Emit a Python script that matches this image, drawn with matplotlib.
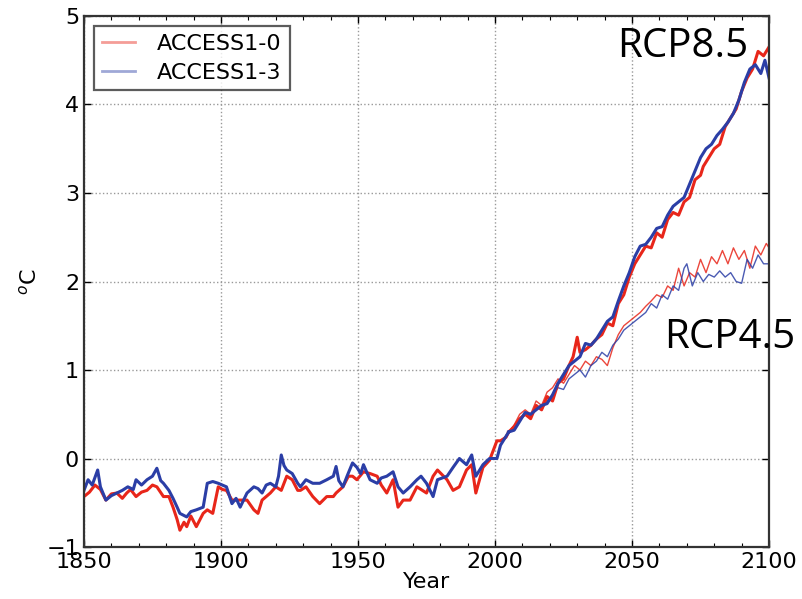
import numpy as np
import matplotlib
matplotlib.use('Agg')
import matplotlib.pyplot as plt
from matplotlib.lines import Line2D
from matplotlib.ticker import MultipleLocator

# historical runs (both models share 1850-2005)
hist_years_13 = [1850, 1851.5, 1853, 1855, 1856, 1858, 1860, 1862, 1864, 1866, 1868, 1869,
                 1871, 1873, 1875, 1876.6, 1878, 1879, 1881, 1882.5, 1884, 1885, 1887.5, 1889,
                 1891, 1893.5, 1895, 1897, 1899, 1900.5, 1902, 1904, 1905.5, 1907, 1909.5, 1912,
                 1913.5, 1915, 1916.5, 1918, 1920, 1921, 1922, 1923, 1924, 1926, 1928, 1929,
                 1931, 1933.5, 1936, 1938.6, 1941, 1942, 1943, 1944.5, 1946, 1948, 1949.6, 1951,
                 1952, 1954.4, 1957, 1958.5, 1960.5, 1962.8, 1964.6, 1966.5, 1969, 1971.5, 1973,
                 1975, 1977.4, 1979, 1982.5, 1984.7, 1987, 1989.6, 1991.5, 1993, 1995.6, 1998,
                 2000.7, 2002, 2004, 2005]
hist_access13 = [-0.36, -0.24, -0.30, -0.13, -0.32, -0.47, -0.42, -0.39, -0.36, -0.32, -0.35, -0.24,
                 -0.30, -0.24, -0.20, -0.11, -0.25, -0.28, -0.36, -0.45, -0.55, -0.62, -0.66, -0.60,
                 -0.58, -0.55, -0.28, -0.26, -0.28, -0.30, -0.32, -0.51, -0.45, -0.55, -0.39, -0.32,
                 -0.34, -0.39, -0.30, -0.28, -0.32, -0.20, 0.04, -0.08, -0.13, -0.17, -0.28, -0.32,
                 -0.24, -0.28, -0.28, -0.24, -0.20, -0.09, -0.25, -0.32, -0.20, -0.05, -0.10, -0.17,
                 -0.07, -0.24, -0.28, -0.22, -0.20, -0.15, -0.32, -0.39, -0.32, -0.24, -0.20,
                 -0.28, -0.43, -0.24, -0.20, -0.10, 0.00, -0.07, 0.04, -0.20, -0.07, 0.00,
                 0.00, 0.15, 0.25, 0.30]

hist_years_10 = [1850, 1852, 1854, 1856, 1858, 1860, 1862, 1864, 1865.6, 1867, 1869, 1871,
                 1873, 1875, 1876.6, 1879, 1881, 1882.5, 1884, 1885, 1886.5, 1887.5, 1889, 1891,
                 1893.5, 1895, 1897, 1899, 1900.5, 1902, 1904, 1907, 1909.5, 1912, 1913.5, 1915,
                 1918, 1920, 1922, 1924, 1926, 1928, 1929, 1931, 1933.5, 1936, 1938.6, 1941,
                 1942, 1944.5, 1946.5, 1948, 1949.6, 1952, 1954.4, 1957, 1958.5, 1960.5, 1962.8,
                 1964.6, 1966.5, 1969, 1971.5, 1975, 1977.4, 1979, 1982.5, 1984.7, 1987, 1989.6,
                 1991.5, 1993, 1995.6, 1998, 2000.7, 2002, 2004, 2005]
hist_access10 = [-0.43, -0.38, -0.30, -0.35, -0.47, -0.40, -0.39, -0.45, -0.39, -0.35, -0.43, -0.38,
                 -0.36, -0.30, -0.32, -0.43, -0.43, -0.55, -0.69, -0.81, -0.72, -0.77, -0.65, -0.77,
                 -0.62, -0.58, -0.62, -0.32, -0.35, -0.36, -0.47, -0.47, -0.47, -0.58, -0.62, -0.47,
                 -0.39, -0.32, -0.36, -0.20, -0.24, -0.36, -0.36, -0.32, -0.43, -0.51, -0.43, -0.43,
                 -0.39, -0.32, -0.20, -0.20, -0.24, -0.15, -0.17, -0.20, -0.30, -0.39, -0.24,
                 -0.55, -0.47, -0.47, -0.32, -0.39, -0.20, -0.13, -0.24, -0.36, -0.32, -0.13,
                 -0.07, -0.39, -0.10, -0.02, 0.20, 0.20, 0.24, 0.30]

# RCP8.5 projections
rcp85_years_10 = [2005, 2007, 2009, 2011, 2013, 2015, 2017, 2019, 2021, 2023, 2025, 2027, 2028.5,
                  2030, 2031, 2033, 2035, 2037, 2039, 2041, 2043, 2045, 2047, 2049, 2051, 2053,
                  2055, 2057, 2059, 2061, 2063, 2065, 2067, 2069, 2071, 2073, 2075, 2076, 2078,
                  2080, 2082, 2084, 2086, 2088, 2090, 2092, 2094, 2096, 2098, 2100]
rcp85_access10 = [0.30, 0.36, 0.45, 0.50, 0.45, 0.60, 0.55, 0.70, 0.65, 0.85, 0.90, 1.05, 1.15,
                  1.37, 1.20, 1.23, 1.28, 1.35, 1.40, 1.53, 1.50, 1.75, 1.85, 2.05, 2.20, 2.30,
                  2.40, 2.38, 2.55, 2.50, 2.70, 2.78, 2.75, 2.90, 2.95, 3.15, 3.20, 3.30, 3.40,
                  3.50, 3.55, 3.75, 3.85, 3.95, 4.15, 4.30, 4.40, 4.60, 4.55, 4.65]

rcp85_years_13 = [2005, 2007, 2009, 2011, 2013, 2015, 2017, 2019, 2021, 2023, 2025, 2027, 2029,
                  2031, 2033, 2035, 2037, 2039, 2041, 2043, 2045, 2047, 2049, 2051, 2053, 2055,
                  2057, 2059, 2061, 2063, 2065, 2067, 2069, 2071, 2073, 2075, 2077, 2079, 2081,
                  2083, 2085, 2087, 2089, 2091, 2093, 2095, 2097, 2098.5, 2100]
rcp85_access13 = [0.30, 0.32, 0.42, 0.52, 0.50, 0.55, 0.60, 0.62, 0.72, 0.85, 0.95, 1.05, 1.10,
                  1.15, 1.30, 1.28, 1.35, 1.45, 1.55, 1.60, 1.78, 1.95, 2.10, 2.28, 2.40, 2.42,
                  2.50, 2.60, 2.62, 2.75, 2.85, 2.90, 2.95, 3.10, 3.25, 3.40, 3.50, 3.55, 3.65,
                  3.72, 3.80, 3.90, 4.05, 4.25, 4.40, 4.45, 4.35, 4.50, 4.30]

# RCP4.5 projections
rcp45_years_10 = [2005, 2007, 2009, 2011, 2013, 2015, 2017, 2019, 2021, 2023, 2025, 2027, 2029,
                  2031, 2033, 2035, 2037, 2039, 2041, 2043, 2045, 2047, 2049, 2051, 2053, 2055,
                  2057, 2059, 2061, 2063, 2065, 2067, 2069, 2071, 2073, 2075, 2077, 2079, 2081,
                  2083, 2085, 2087, 2089, 2091, 2093, 2095, 2097, 2099, 2100]
rcp45_access10 = [0.30, 0.38, 0.50, 0.55, 0.50, 0.65, 0.60, 0.75, 0.80, 0.90, 0.85, 0.95, 1.05,
                  1.00, 1.10, 1.05, 1.15, 1.12, 1.05, 1.25, 1.40, 1.50, 1.55, 1.60, 1.65, 1.72,
                  1.78, 1.85, 1.82, 1.95, 1.90, 2.15, 1.95, 2.10, 2.05, 2.25, 2.10, 2.28, 2.20,
                  2.35, 2.20, 2.38, 2.25, 2.35, 2.15, 2.40, 2.30, 2.43, 2.38]

rcp45_years_13 = [2005, 2007, 2009, 2011, 2013, 2015, 2017, 2019, 2021, 2023, 2025, 2027, 2029,
                  2031, 2033, 2035, 2037, 2039, 2041, 2043, 2045, 2047, 2049, 2051, 2053, 2055,
                  2057, 2059, 2061, 2063, 2065, 2067, 2069, 2070, 2072, 2074, 2076, 2078, 2080,
                  2082, 2084, 2086, 2088, 2090, 2092, 2094, 2096, 2098, 2100]
rcp45_access13 = [0.30, 0.35, 0.45, 0.50, 0.48, 0.58, 0.55, 0.65, 0.72, 0.80, 0.78, 0.90, 0.95,
                  1.00, 0.92, 1.05, 1.10, 1.20, 1.15, 1.28, 1.35, 1.45, 1.50, 1.55, 1.60, 1.65,
                  1.75, 1.70, 1.85, 1.80, 1.95, 1.90, 2.15, 2.20, 1.95, 2.10, 2.00, 2.08, 2.05,
                  2.12, 2.05, 2.10, 2.00, 1.98, 2.25, 2.15, 2.30, 2.20, 2.20]

red = '#e8261a'
blue = '#2b3ea6'

plt.rcParams['font.size'] = 16
fig = plt.figure(figsize=(8.02, 5.99), dpi=100)
ax = fig.add_axes([0.1047, 0.0868, 0.8542, 0.8865])

# thin RCP4.5 first, then thick lines on top
ax.plot(rcp45_years_10, rcp45_access10, color=red, lw=1.0, alpha=0.85)
ax.plot(rcp45_years_13, rcp45_access13, color=blue, lw=1.0, alpha=0.85)
ax.plot(hist_years_10, hist_access10, color=red, lw=2.2)
ax.plot(rcp85_years_10, rcp85_access10, color=red, lw=2.2)
ax.plot(hist_years_13, hist_access13, color=blue, lw=2.2)
ax.plot(rcp85_years_13, rcp85_access13, color=blue, lw=2.2)

ax.set_xlim(1850, 2100)
ax.set_ylim(-1, 5)
ax.xaxis.set_major_locator(MultipleLocator(50))
ax.xaxis.set_minor_locator(MultipleLocator(10))
ax.yaxis.set_major_locator(MultipleLocator(1))
ax.tick_params(which='both', direction='in', top=True, right=True)
ax.tick_params(which='major', length=5, width=1)
ax.tick_params(which='minor', length=3, width=0.8)
ax.grid(True, which='major', linestyle=':', color='#999999', lw=1)
for sp in ax.spines.values():
    sp.set_linewidth(1.6)
    sp.set_color('#333333')

ax.set_xlabel('Year', labelpad=0)
ax.set_ylabel('$^o$C')

handles = [Line2D([], [], color=red, lw=2, alpha=0.45),
           Line2D([], [], color=blue, lw=2, alpha=0.45)]
leg = ax.legend(handles, ['ACCESS1-0', 'ACCESS1-3'], loc='upper left', fancybox=False,
                handlelength=1.5, handletextpad=1.0, borderaxespad=0.45, borderpad=0.35,
                labelspacing=0.4)
leg.get_frame().set_edgecolor('#333333')
leg.get_frame().set_linewidth(1.6)

fig.text(617/802, 1 - 57/599, 'RCP8.5', fontsize=29, family=['Open Sans', 'DejaVu Sans'],
         va='baseline', ha='left')
fig.text(664/802, 1 - 348/599, 'RCP4.5', fontsize=29, family=['Open Sans', 'DejaVu Sans'],
         va='baseline', ha='left')

fig.savefig('out.png', dpi=100)
